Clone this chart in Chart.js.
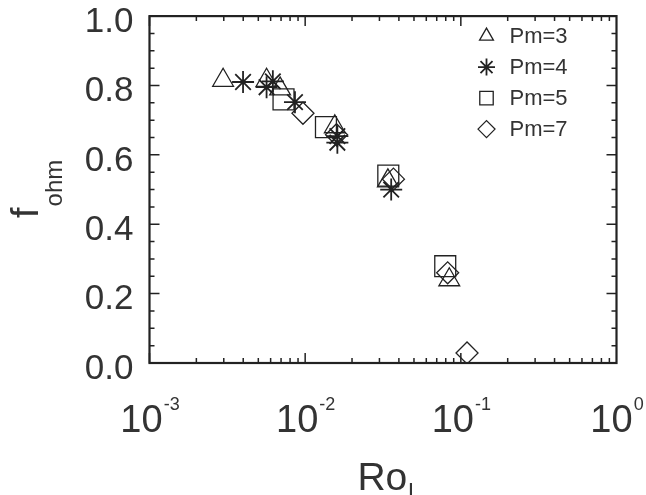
<!DOCTYPE html>
<html>
<head>
    <title>f_ohm vs Ro_l</title>
    <meta charset="UTF-8">
    <script src="https://cdn.jsdelivr.net/npm/chart.js"></script>
    <style>
        body {
            margin: 0;
            background-color: #fff;
        }

        .chart-box {
            position: relative;
            width: 646px;
            height: 495px;
        }
    </style>
</head>
<body>
    <div class="chart-box">
        <canvas id="fohmChart"></canvas>
    </div>

    <script>
        // Data (x = Ro_l, y = f_ohm)
        var seriesLabels = ['Pm=3', 'Pm=4', 'Pm=5', 'Pm=7'];

        var pm3Ro = [0.00297, 0.00565, 0.0069, 0.0155, 0.034, 0.0843];
        var pm3F = [0.815, 0.815, 0.79, 0.681, 0.525, 0.240];

        var pm4Ro = [0.00399, 0.00565, 0.0062, 0.0086, 0.0161, 0.0161, 0.0357];
        var pm4F = [0.810, 0.795, 0.812, 0.752, 0.654, 0.635, 0.500];

        var pm5Ro = [0.00726, 0.0136, 0.0342, 0.0794];
        var pm5F = [0.760, 0.680, 0.540, 0.279];

        var pm7Ro = [0.00968, 0.0159, 0.0369, 0.0823, 0.1096];
        var pm7F = [0.720, 0.658, 0.530, 0.260, 0.029];

        var xTickValues = [0.001, 0.01, 0.1, 1];
        var xTickExponents = ['-3', '-2', '-1', '0'];

        var seriesRo = [pm3Ro, pm4Ro, pm5Ro, pm7Ro];
        var seriesF = [pm3F, pm4F, pm5F, pm7F];
        var pointStyles = ['triangle', 'star', 'rect', 'rectRot'];
        var pointSizes = [12, 11, 14.8, 11];
        var pointWidths = [1.3, 1.8, 1.3, 1.3];
        var legendSizes = [8, 8.5, 9.5, 8.5];

        var ink = '#222';
        var textInk = '#333';
        var fontName = '"Liberation Sans", Arial, Helvetica, sans-serif';

        var datasets = seriesLabels.map(function(label, i) {
            return {
                label: label,
                data: seriesRo[i].map(function(x, j) { return { x: x, y: seriesF[i][j] }; }),
                pointStyle: pointStyles[i],
                pointRadius: pointSizes[i],
                pointHoverRadius: pointSizes[i],
                pointBackgroundColor: 'rgba(0,0,0,0)',
                pointBorderColor: ink,
                pointBorderWidth: pointWidths[i],
                showLine: false
            };
        });

        // frame with inward ticks on all four sides
        var framePlugin = {
            id: 'frame',
            afterDatasetsDraw: function(chart) {
                var ctx = chart.ctx;
                var a = chart.chartArea;
                var xs = chart.scales.x;
                var ys = chart.scales.y;
                ctx.save();
                ctx.strokeStyle = ink;
                ctx.lineWidth = 1.5;
                ctx.beginPath();
                for (var e = -3; e < 0; e++) {
                    for (var m = 1; m <= 9; m++) {
                        var v = m * Math.pow(10, e);
                        var px = xs.getPixelForValue(v);
                        var len = m === 1 ? 10 : 5;
                        ctx.moveTo(px, a.bottom);
                        ctx.lineTo(px, a.bottom - len);
                        ctx.moveTo(px, a.top);
                        ctx.lineTo(px, a.top + len);
                    }
                }
                for (var k = 0; k <= 20; k++) {
                    var py = ys.getPixelForValue(k * 0.05);
                    var l = k % 4 === 0 ? 10 : 5;
                    ctx.moveTo(a.left, py);
                    ctx.lineTo(a.left + l, py);
                    ctx.moveTo(a.right, py);
                    ctx.lineTo(a.right - l, py);
                }
                ctx.stroke();
                ctx.lineWidth = 2.2;
                ctx.strokeRect(a.left, a.top, a.right - a.left, a.bottom - a.top);
                ctx.restore();
            }
        };

        // x tick labels with exponents, axis titles with subscripts, legend
        var textPlugin = {
            id: 'texts',
            afterDraw: function(chart) {
                var ctx = chart.ctx;
                var a = chart.chartArea;
                var xs = chart.scales.x;
                ctx.save();
                ctx.fillStyle = textInk;
                ctx.textBaseline = 'alphabetic';
                ctx.textAlign = 'left';

                xTickValues.forEach(function(v, i) {
                    var px = xs.getPixelForValue(v);
                    ctx.font = '38px ' + fontName;
                    var wBase = ctx.measureText('10').width;
                    ctx.font = '18px ' + fontName;
                    var wExp = ctx.measureText(xTickExponents[i]).width;
                    var x0 = px - (wBase + wExp) / 2;
                    ctx.font = '38px ' + fontName;
                    ctx.fillText('10', x0, 432);
                    ctx.font = '18px ' + fontName;
                    ctx.fillText(xTickExponents[i], x0 + wBase + 1, 410);
                });

                // x title Ro_l
                ctx.font = '39px ' + fontName;
                var wRo = ctx.measureText('Ro').width;
                ctx.font = '24px ' + fontName;
                var wl = ctx.measureText('l').width;
                var cx = (a.left + a.right) / 2 + 2;
                var sx = cx - (wRo + wl) / 2;
                ctx.font = '39px ' + fontName;
                ctx.fillText('Ro', sx, 490);
                ctx.font = '24px ' + fontName;
                ctx.fillText('l', sx + wRo + 1, 500);

                // y title f_ohm
                ctx.save();
                ctx.translate(38, 218);
                ctx.rotate(-Math.PI / 2);
                ctx.font = '38px ' + fontName;
                var wf = ctx.measureText('f').width;
                ctx.fillText('f', 0, 0);
                ctx.font = '24px ' + fontName;
                ctx.fillText('ohm', wf + 1, 24);
                ctx.restore();

                // legend
                var lx = a.right - 130;
                chart.data.datasets.forEach(function(ds, i) {
                    var ly = a.top + 20 + i * 31;
                    ctx.strokeStyle = ink;
                    ctx.fillStyle = 'rgba(0,0,0,0)';
                    ctx.lineWidth = ds.pointBorderWidth;
                    Chart.helpers.drawPoint(ctx, {
                        pointStyle: ds.pointStyle,
                        radius: legendSizes[i],
                        rotation: 0,
                        borderWidth: ds.pointBorderWidth
                    }, lx, ly);
                    ctx.fillStyle = textInk;
                    ctx.font = '22px ' + fontName;
                    ctx.textBaseline = 'middle';
                    ctx.fillText(ds.label, lx + 23, ly + 1);
                    ctx.textBaseline = 'alphabetic';
                });
                ctx.restore();
            }
        };

        var ctx1 = document.getElementById('fohmChart').getContext('2d');
        var chart1 = new Chart(ctx1, {
            type: 'scatter',
            data: { datasets: datasets },
            plugins: [framePlugin, textPlugin],
            options: {
                responsive: true,
                maintainAspectRatio: false,
                animation: false,
                layout: {
                    padding: { top: 12, right: 29.5, left: 0, bottom: 0 }
                },
                plugins: {
                    legend: { display: false },
                    tooltip: { enabled: false },
                    title: { display: false }
                },
                scales: {
                    x: {
                        type: 'logarithmic',
                        position: 'bottom',
                        min: 0.001,
                        max: 1,
                        ticks: { display: false },
                        grid: { display: false },
                        border: { display: false },
                        afterFit: function(s) {
                            s.height = 132;
                            s.paddingLeft = 0;
                            s.paddingRight = 0;
                        }
                    },
                    y: {
                        min: 0,
                        max: 1,
                        ticks: {
                            stepSize: 0.2,
                            color: textInk,
                            padding: 8,
                            labelOffset: 6,
                            font: { family: fontName, size: 35 },
                            callback: function(v) { return v.toFixed(1); }
                        },
                        grid: { display: false },
                        border: { display: false },
                        afterFit: function(s) {
                            s.width = 149.5;
                            s.paddingTop = 0;
                            s.paddingBottom = 0;
                        }
                    }
                }
            }
        });
    </script>
</body>
</html>
